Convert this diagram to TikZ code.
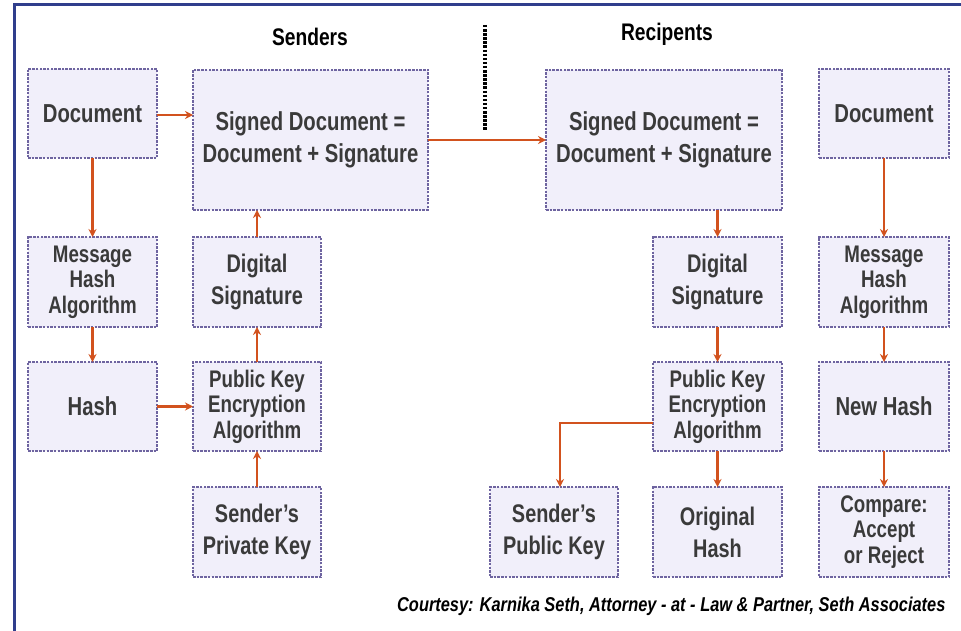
\documentclass[tikz,border=0pt]{standalone}
\usepackage{fontspec}
\setmainfont{Liberation Sans}[FakeStretch=0.78]
\newfontfamily\titlefont{Liberation Sans}[FakeStretch=0.8]
\newfontfamily\creditfont{Liberation Sans}[FakeStretch=0.82]
\usetikzlibrary{arrows.meta}
\definecolor{boxfill}{RGB}{241,239,250}
\definecolor{boxline}{RGB}{110,100,160}
\definecolor{flow}{RGB}{210,82,30}
\definecolor{frameblue}{RGB}{48,62,140}
\definecolor{boxtext}{RGB}{58,58,58}
\tikzset{
  box/.style={draw=boxline, fill=boxfill, line width=1.8pt, dash pattern=on 2.5pt off 1.2pt,
    align=center, inner sep=0pt, outer sep=0pt, text=boxtext,
    font=\bfseries\fontsize{26}{29}\selectfont},
  small/.style={minimum width=129pt, minimum height=89pt},
  wide/.style={minimum width=236pt, minimum height=140pt},
  threeline/.style={font=\bfseries\fontsize{24}{25.5}\selectfont},
  twoline/.style={font=\bfseries\fontsize{25.5}{32}\selectfont},
  flowarrow/.style={draw=flow, line width=2.8pt,
    -{Stealth[length=8pt,width=8pt]}},
  heading/.style={font=\titlefont\bfseries\fontsize{24}{27}\selectfont, text=black}
}
\begin{document}
\begin{tikzpicture}[x=1pt,y=-1pt]
\useasboundingbox (0,0) rectangle (961,631);
\fill[white] (0,0) rectangle (961,631);
% frame edges
\draw[frameblue, line width=3pt] (14,631) -- (14,5) -- (961,5);

% headings and the divider
\node[heading] (hsend) at (310,37) {Senders};
\node[heading] (hrec) at (667,34) {Recipents};
\coordinate (divtop) at (485,25);
\coordinate (divbot) at (485,131);
\draw[black, line width=3.2pt, dash pattern=on 2.5pt off 1.6pt] (divtop) -- (divbot);

% sender side
\node[box, small] (docS) at (92.5,113.5) {Document};
\node[box, wide, minimum width=235pt] (sdS) at (310.5,140) {Signed Document =\\[3pt]Document + Signature};
\node[box, small, minimum height=90pt, threeline] (mhaS) at (92.5,282) {Message\\Hash\\Algorithm};
\node[box, small, minimum width=128pt, minimum height=90pt, twoline] (dsS) at (257,282) {Digital\\Signature};
\node[box, small] (hashS) at (92.5,406.5) {Hash};
\node[box, small, minimum width=128pt, threeline] (pkeaS) at (257,406.5) {Public Key\\Encryption\\Algorithm};
\node[box, small, minimum width=128pt, minimum height=90pt, twoline] (sprk) at (257,532) {Sender's\\Private Key};

% recipient side
\node[box, wide] (sdR) at (664,140) {Signed Document =\\[3pt]Document + Signature};
\node[box, small, minimum width=130pt] (docR) at (884,113.5) {Document};
\node[box, small, minimum height=90pt, twoline] (dsR) at (717.5,282) {Digital\\Signature};
\node[box, small, minimum width=130pt, minimum height=90pt, threeline] (mhaR) at (884,282) {Message\\Hash\\Algorithm};
\node[box, small, threeline] (pkeaR) at (717.5,406.5) {Public Key\\Encryption\\Algorithm};
\node[box, small, minimum width=130pt] (nhR) at (884,406.5) {New Hash};
\node[box, small, minimum width=128pt, minimum height=90pt, twoline] (spubk) at (554,532) {Sender's\\Public Key};
\node[box, small, minimum height=90pt, twoline] (ohR) at (717.5,532) {Original\\Hash};
\node[box, small, minimum width=130pt, minimum height=90pt, threeline] (cmpR) at (884,532) {Compare:\\Accept\\or Reject};

% sender flow
\draw[flowarrow] ([yshift=-1.5pt]docS.east) -- ([yshift=-1.5pt]docS.east -| sdS.west);
\draw[flowarrow] (docS.south) -- (mhaS.north);
\draw[flowarrow] (mhaS.south) -- (hashS.north);
\draw[flowarrow] (hashS.east) -- (pkeaS.west);
\draw[flowarrow] (sprk.north) -- (pkeaS.south);
\draw[flowarrow] (pkeaS.north) -- (dsS.south);
\draw[flowarrow] (dsS.north) -- (dsS.north |- sdS.south);

% transmission
\draw[flowarrow] (sdS.east) -- (sdR.west);

% recipient flow
\draw[flowarrow] (sdR.south -| dsR.north) -- (dsR.north);
\draw[flowarrow] (docR.south) -- (mhaR.north);
\draw[flowarrow] (dsR.south) -- (pkeaR.north);
\draw[flowarrow] (mhaR.south) -- (nhR.north);
\draw[flowarrow] ([yshift=-16.5pt]pkeaR.west) -| ([xshift=6pt]spubk.north);
\draw[flowarrow] (pkeaR.south) -- (ohR.north);
\draw[flowarrow] (nhR.south) -- (cmpR.north);

% credit line
\node[font=\creditfont\bfseries\itshape\fontsize{20}{22}\selectfont, anchor=east] (credit) at (949,606)
  {Courtesy: Karnika Seth, Attorney - at - Law \& Partner, Seth Associates};
\end{tikzpicture}
\end{document}
